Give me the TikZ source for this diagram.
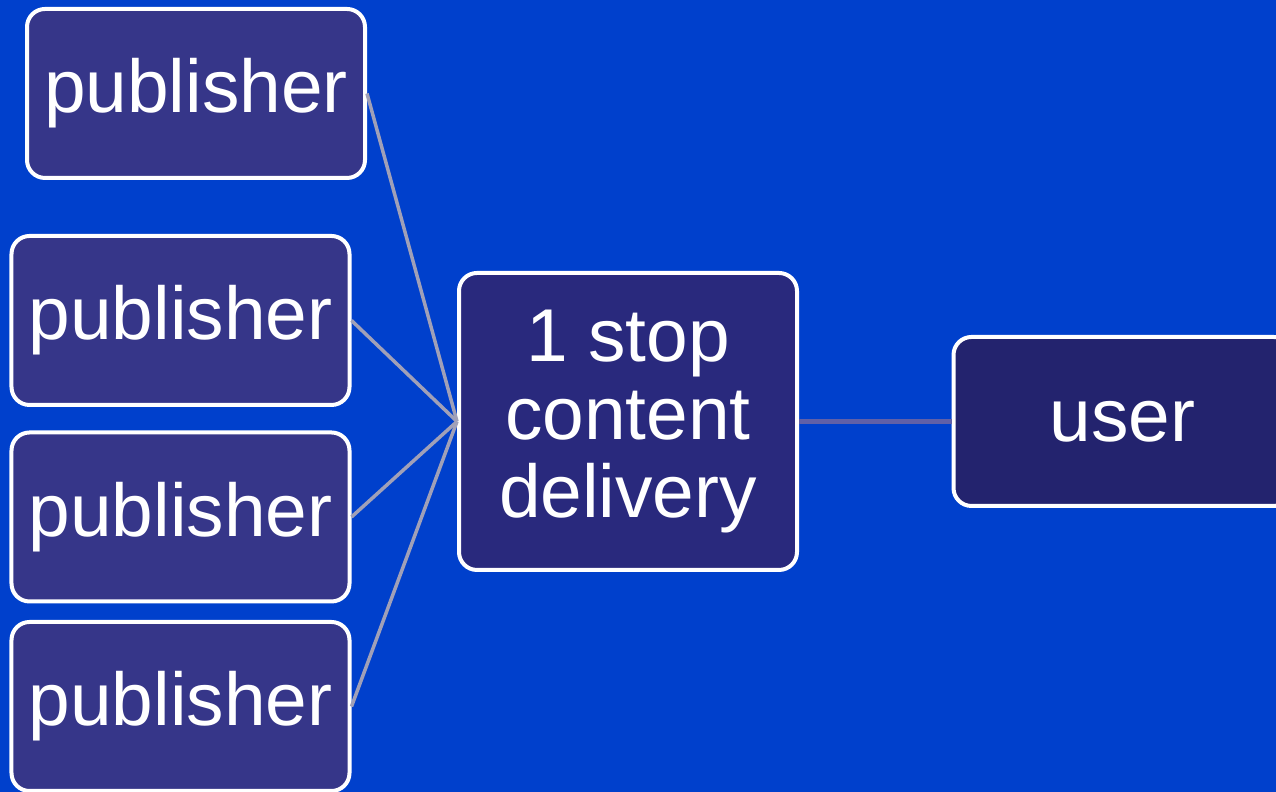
\documentclass[tikz,border=0pt]{standalone}
\usepackage{fontspec}
\setmainfont{Liberation Sans}
\usepackage{xcolor}
\usetikzlibrary{backgrounds}
\definecolor{slideblue}{RGB}{0,64,204}
\definecolor{pubfill}{RGB}{54,54,137}
\definecolor{stopfill}{RGB}{41,41,125}
\definecolor{userfill}{RGB}{35,35,110}
\definecolor{linkgray}{RGB}{160,160,184}
\definecolor{userlink}{RGB}{96,96,168}
\tikzstyle{box}=[draw=white, line width=0.04cm, rounded corners=0.18cm, text=white, inner sep=0pt, align=center, font=\fontsize{21.3}{22.2}\selectfont]
\tikzstyle{pub}=[box, fill=pubfill, minimum width=3.38cm, minimum height=1.69cm]
\tikzstyle{link}=[linkgray, line width=0.035cm]

\begin{document}
\begin{tikzpicture}
 \useasboundingbox (0,0) rectangle (12.76,7.92);
 \fill[slideblue] (0,0) rectangle (12.76,7.92);
%
 \node[pub] (pubA) at (1.96,6.985) {publisher};
 \node[pub] (pubB) at (1.805,4.715) {publisher};
 \node[pub] (pubC) at (1.805,2.75) {publisher};
 \node[pub] (pubD) at (1.805,0.855) {publisher};
%
 \node[box, fill=stopfill, minimum width=3.38cm, minimum height=2.97cm] (hub) at (6.28,3.705) {1 stop\\content\\delivery};
 \node[box, fill=userfill, minimum width=3.38cm, minimum height=1.69cm] (user) at (11.225,3.705) {user};
%
 \draw[link] (pubA.east) -- (hub.west);
 \draw[link] (pubB.east) -- (hub.west);
 \draw[link] (pubC.east) -- (hub.west);
 \draw[link] (pubD.east) -- (hub.west);
 \draw[userlink, line width=0.055cm] (hub.east) -- (user.west);
\end{tikzpicture}
\end{document}
